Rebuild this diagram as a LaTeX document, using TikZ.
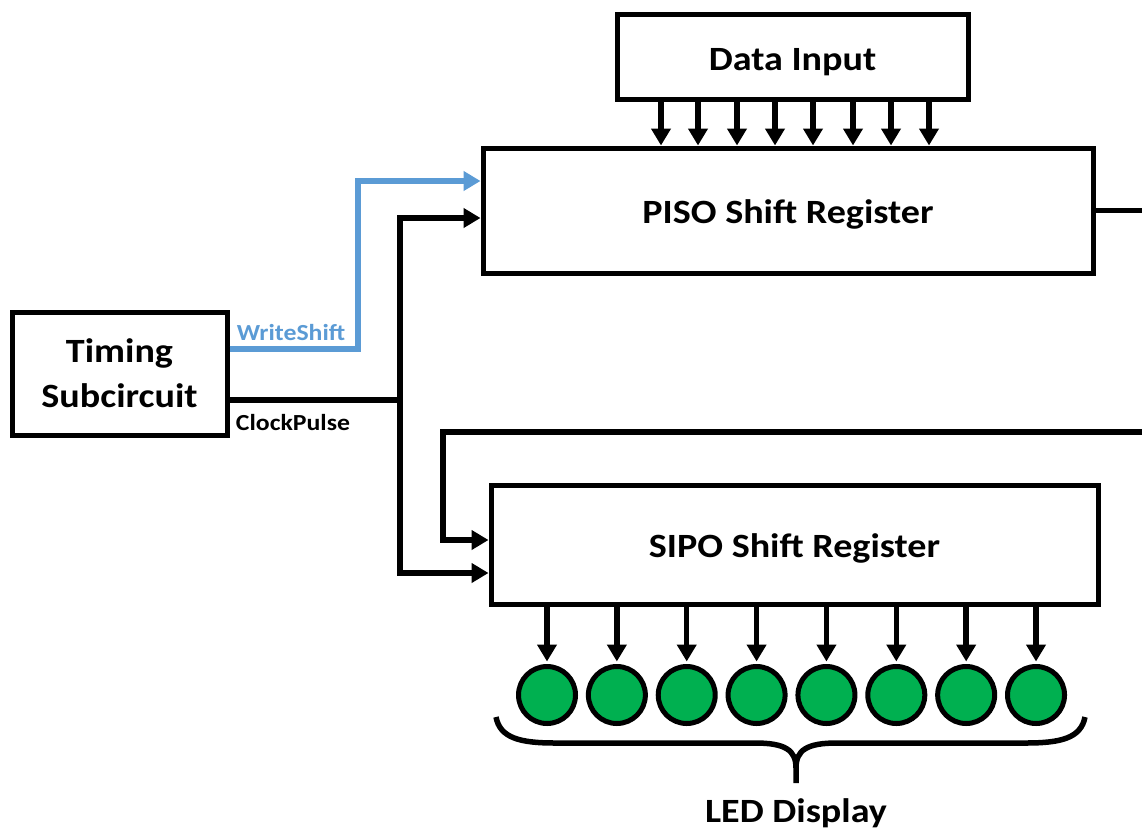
\documentclass[tikz,border=0pt]{standalone}
\usepackage{fontspec}
\setmainfont{Carlito}[FakeStretch=1.12]
\usetikzlibrary{arrows.meta}
\definecolor{wsblue}{HTML}{5B9BD5}
\definecolor{ledgreen}{HTML}{00B050}

\begin{document}
\begin{tikzpicture}[x=1pt,y=-1pt,
  box/.style={draw, line width=5pt, inner sep=0pt,
    font=\bfseries\fontsize{34}{40}\selectfont, text height=26pt, text depth=0pt},
  tbox/.style={draw, line width=5pt, inner sep=0pt, align=center,
    font=\bfseries\fontsize{34}{45}\selectfont},
  wire/.style={line width=5.5pt},
  arr/.style={wire, -{Triangle[length=17pt,width=19pt]}},
  led/.style={circle, draw, line width=5pt, fill=ledgreen, minimum size=57pt, inner sep=0pt},
  sig/.style={font=\bfseries\fontsize{23}{28}\selectfont, anchor=base, inner sep=0pt}]

  \fill[white] (0,0) rectangle (1142,832);
  \useasboundingbox (0,0) rectangle (1142,832);

  % blocks
  \node[box, minimum width=351pt, minimum height=85pt] (data) at (792.5,57.5) {Data Input};
  \node[box, minimum width=610pt, minimum height=125pt] (piso) at (788,210.5) {PISO Shift Register};
  \node[box, minimum width=607pt, minimum height=119pt] (sipo) at (794.5,544.5) {SIPO Shift Register};
  \node[tbox, minimum width=215pt, minimum height=123pt] (timing) at (119.5,373.5) {Timing\\Subcircuit};

  % parallel data lines into the PISO register
  \foreach \x [count=\i] in {661,698,737,775,813,853,891,929} {
    \coordinate (dcol\i) at (\x,0);
    \draw[arr] (data.south -| dcol\i) -- (piso.north -| dcol\i);
  }

  % WriteShift control line
  \coordinate (wsrow) at (0,349);
  \coordinate (wsturn) at (358,181);
  \draw[arr, wsblue, line width=5.5pt] (timing.east |- wsrow) -| (wsturn) -- (piso.west |- wsturn);
  \node[sig, text=wsblue] (wslabel) at (291,340) {WriteShift};

  % ClockPulse line to both registers
  \coordinate (ckrow) at (0,400);
  \coordinate (ckjoin) at (400,400);
  \coordinate (ckpiso) at (0,218);
  \coordinate (cksipo) at (0,573);
  \draw[wire] (timing.east |- ckrow) -- (ckjoin);
  \draw[arr] (ckjoin) |- (piso.west |- ckpiso);
  \draw[arr] (ckjoin) |- (sipo.west |- cksipo);
  \node[sig] (cklabel) at (293,430) {ClockPulse};

  % serial output and serial input
  \coordinate (pout) at (1150,0);
  \draw[wire] (piso.east) -- (piso.east -| pout);
  \coordinate (fbin) at (1150,432);
  \coordinate (fbturn) at (443,432);
  \coordinate (fbrow) at (0,540);
  \draw[arr] (fbin) -- (fbturn) |- (sipo.west |- fbrow);

  % LEDs
  \foreach \i in {0,...,7} {
    \pgfmathsetmacro\lx{547+69.86*\i}
    \node[led] (led\i) at (\lx,695) {};
    \draw[arr, shorten >=2.5pt] (sipo.south -| led\i) -- (led\i.north);
  }

  % brace under the LEDs
  \draw[wire] (496,717) .. controls (500,738) and (520,743) .. (555,743) -- (755,743)
    .. controls (785,743) and (796,750) .. (796,768) -- (796,783);
  \draw[wire] (1085,717) .. controls (1081,738) and (1061,743) .. (1026,743) -- (837,743)
    .. controls (807,743) and (796,750) .. (796,768);
  \node[sig, font=\bfseries\fontsize{34}{40}\selectfont] (ledlabel) at (796,822) {LED Display};
\end{tikzpicture}
\end{document}
